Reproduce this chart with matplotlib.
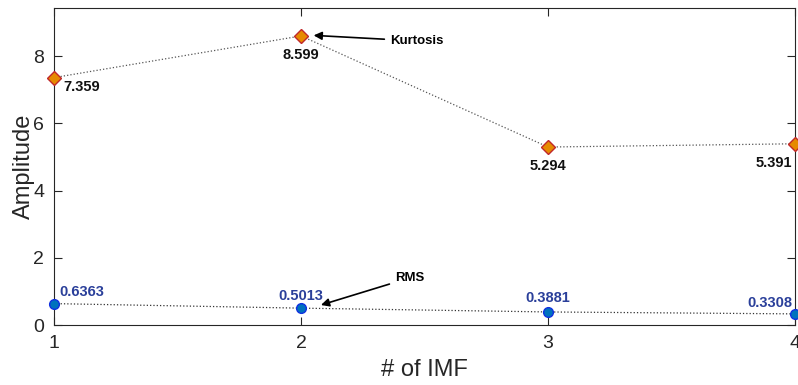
import matplotlib
matplotlib.use("Agg")
import matplotlib.pyplot as plt

plt.rcParams['font.family'] = ['Liberation Sans', 'DejaVu Sans']

imf = [1, 2, 3, 4]
kurtosis = [7.359, 8.599, 5.294, 5.391]
rms = [0.6363, 0.5013, 0.3881, 0.3308]

# label offsets (points) and alignment per point
kurt_offsets = [((7, -7), 'left'), ((0, -14), 'center'), ((0, -14), 'center'), ((-2, -14), 'right')]
rms_offsets = [((4, 8), 'left'), ((0, 9), 'center'), ((0, 10), 'center'), ((-2, 8), 'right')]

fig = plt.figure(figsize=(7.98, 3.85), dpi=100)
ax = fig.add_axes([54 / 798, 1 - 325 / 385, (795 - 54) / 798, (325 - 8) / 385])

ax.plot(imf, kurtosis, linestyle=':', color='#555555', linewidth=0.9,
        marker='D', markersize=7, markerfacecolor='#E68A00', markeredgecolor='#C0282A',
        markeredgewidth=1.0, clip_on=False, zorder=3)
ax.plot(imf, rms, linestyle=':', color='#333333', linewidth=0.9,
        marker='o', markersize=7, markerfacecolor='#0072BD', markeredgecolor='#1030E0',
        markeredgewidth=1.0, clip_on=False, zorder=3)

for x, y, (off, ha) in zip(imf, kurtosis, kurt_offsets):
    ax.annotate(f'{y:.3f}', (x, y), xytext=off, textcoords='offset points',
                ha=ha, va='center', fontsize=10.5, fontweight='bold', color='#111111')
for x, y, (off, ha) in zip(imf, rms, rms_offsets):
    ax.annotate(f'{y:.4f}', (x, y), xytext=off, textcoords='offset points',
                ha=ha, va='center', fontsize=10.5, fontweight='bold', color='#2A3F9A')

ax.annotate('Kurtosis', xy=(2.04, 8.62), xytext=(2.36, 8.45), ha='left', va='center',
            fontsize=9.5, fontweight='bold',
            arrowprops=dict(arrowstyle='-|>', color='black', lw=1.2, mutation_scale=12))
ax.annotate('RMS', xy=(2.07, 0.57), xytext=(2.38, 1.4), ha='left', va='center',
            fontsize=9.5, fontweight='bold',
            arrowprops=dict(arrowstyle='-|>', color='black', lw=1.2, mutation_scale=12))

ax.set_xlim(1, 4)
ax.set_ylim(0, 9.43)
ax.set_xticks(imf)
ax.set_yticks([0, 2, 4, 6, 8])
ax.tick_params(direction='in', length=6, width=0.8, labelsize=14, colors='#262626',
               top=True, right=True, pad=7)
for s in ax.spines.values():
    s.set_color('#262626')
    s.set_linewidth(0.8)

ax.set_xlabel('# of IMF', fontsize=17, color='#262626', labelpad=5)
ax.set_ylabel('Amplitude', fontsize=17, color='#262626', labelpad=-1)

fig.savefig('out.png', dpi=100)
